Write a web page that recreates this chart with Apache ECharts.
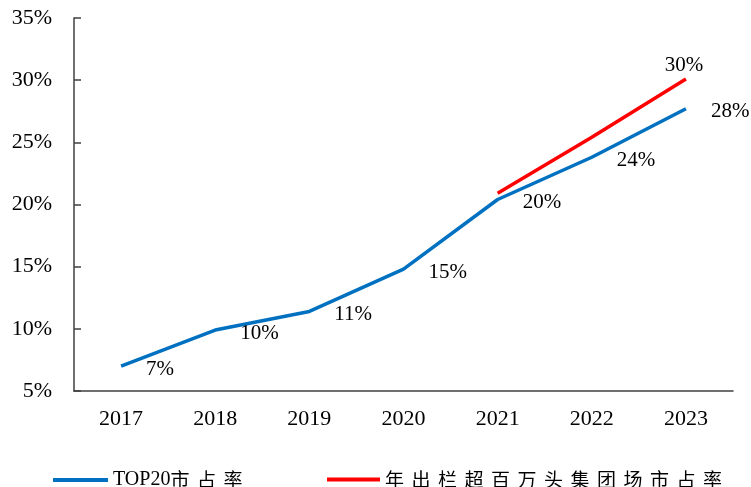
<!DOCTYPE html>
<html>
<head>
<meta charset="utf-8">
<script src="https://cdn.jsdelivr.net/npm/echarts@6/dist/echarts.min.js"></script>
<style>
  html, body { margin: 0; padding: 0; background: #fff; }
  #chart { width: 751px; height: 487px; }
</style>
</head>
<body>
<div id="chart"></div>
<script>
// 数据
const years = ['2017', '2018', '2019', '2020', '2021', '2022', '2023'];
const top20Share = [7.0, 9.9, 11.4, 14.8, 20.4, 23.8, 27.7];
const millionGroupShare = [null, null, null, null, 20.9, 25.4, 30.1];
const yTicks = [5, 10, 15, 20, 25, 30, 35];

const serif = '"Liberation Serif", "Times New Roman", "Noto Sans CJK SC", serif';
const axisColor = '#404040';

const chart = echarts.init(document.getElementById('chart'));

// 中文字符按固定宽度排开，模仿原图的字间距
function spaced(name) {
  return name.replace(/[\u4e00-\u9fff]/g, c => '{c|' + c + '}');
}
const legendText = {
  color: '#000',
  fontFamily: serif,
  fontSize: 20,
  rich: {
    c: { width: 26.5, fontSize: 19, fontFamily: '"Noto Sans CJK SC", serif', color: '#000' }
  }
};

const pctLabel = p => Math.round(p.value) + '%';

const option = {
  animation: false,
  grid: { left: 74, right: 18, top: 18, bottom: 96 },
  legend: [
    {
      data: ['TOP20市占率'],
      left: 48, top: 465,
      icon: 'rect', itemWidth: 55, itemHeight: 4,
      formatter: spaced,
      textStyle: legendText
    },
    {
      data: ['年出栏超百万头集团场市占率'],
      left: 322, top: 465,
      icon: 'rect', itemWidth: 53, itemHeight: 4,
      formatter: spaced,
      textStyle: legendText
    }
  ],
  xAxis: {
    type: 'category',
    data: years,
    boundaryGap: true,
    axisLine: { lineStyle: { color: axisColor, width: 1.5 } },
    axisTick: { inside: true, length: 8, lineStyle: { color: axisColor, width: 1.5 } },
    axisLabel: { color: '#000', fontFamily: serif, fontSize: 22, margin: 17 }
  },
  yAxis: {
    type: 'value',
    min: yTicks[0],
    max: yTicks[yTicks.length - 1],
    interval: 5,
    axisLine: { show: true, lineStyle: { color: axisColor, width: 1.5 } },
    axisTick: { show: true, inside: true, length: 7, lineStyle: { color: axisColor, width: 1.5 } },
    splitLine: { show: false },
    axisLabel: {
      color: '#000', fontFamily: serif, fontSize: 22, margin: 22,
      formatter: v => v + '%'
    }
  },
  series: [
    {
      name: 'TOP20市占率',
      type: 'line',
      data: top20Share,
      symbol: 'circle',
      symbolSize: 0,
      lineStyle: { color: '#0070C0', width: 3.5 },
      itemStyle: { color: '#0070C0' },
      label: {
        show: true,
        position: 'right',
        distance: 25,
        offset: [0, 3],
        color: '#000',
        fontFamily: serif,
        fontSize: 21,
        formatter: pctLabel
      },
      z: 2
    },
    {
      name: '年出栏超百万头集团场市占率',
      type: 'line',
      data: millionGroupShare.map((v, i) => ({
        value: v,
        label: { show: i === millionGroupShare.length - 1 }
      })),
      symbol: 'circle',
      symbolSize: 0,
      lineStyle: { color: '#FF0000', width: 3.5 },
      itemStyle: { color: '#FF0000' },
      label: {
        position: 'top',
        distance: 3,
        offset: [-2, 0],
        color: '#000',
        fontFamily: serif,
        fontSize: 21,
        formatter: pctLabel
      },
      z: 3
    }
  ]
};

chart.setOption(option);
window.addEventListener('resize', () => chart.resize());
</script>
</body>
</html>
